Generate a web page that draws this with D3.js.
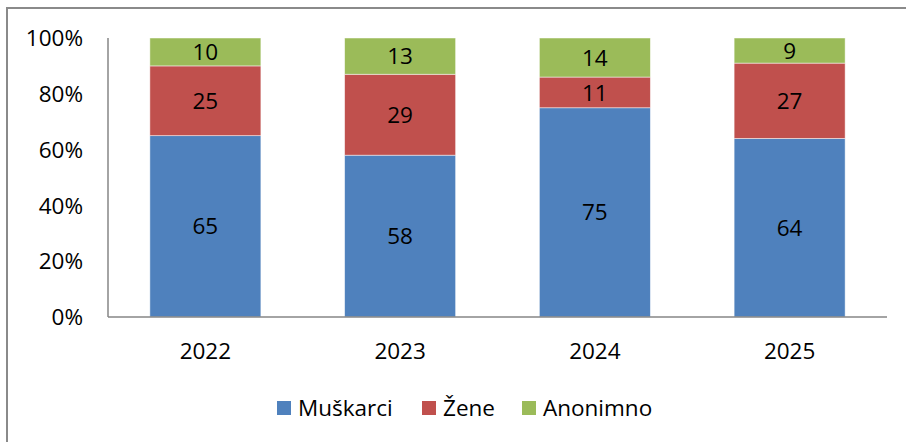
<!DOCTYPE html>
<html>
<head>
<meta charset="utf-8">
<script src="https://cdn.jsdelivr.net/npm/d3@7"></script>
<style>
  html, body { margin: 0; padding: 0; background: #fff; }
  svg { display: block; font-family: "Open Sans", "Noto Sans", sans-serif; }
</style>
</head>
<body>
<svg id="chart" width="906" height="442"></svg>
<script>
// data
const years = ["2022", "2023", "2024", "2025"];
const seriesNames = ["Muškarci", "Žene", "Anonimno"];
const muskarci = [65, 58, 75, 64];
const zene = [25, 29, 11, 27];
const anonimno = [10, 13, 14, 9];
const yTicks = [0, 0.2, 0.4, 0.6, 0.8, 1];
const colors = ["#4F81BD", "#C0504D", "#9BBB59"];

const svg = d3.select("#chart");
const width = 906, height = 442;
const plotLeft = 108, plotRight = 887, plotTop = 38, plotBottom = 317;
const fs = 22.5;

// outer frame of the chart area
svg.append("rect")
  .attr("x", 7).attr("y", 8)
  .attr("width", width + 10).attr("height", height + 10)
  .attr("fill", "none")
  .attr("stroke", "#8a8a8a")
  .attr("stroke-width", 2);

const rows = years.map((y, i) => ({ year: y, "Muškarci": muskarci[i], "Žene": zene[i], "Anonimno": anonimno[i] }));
// normalise to 100%
rows.forEach(r => {
  r.total = r["Muškarci"] + r["Žene"] + r["Anonimno"];
});
const stack = d3.stack().keys(seriesNames)
  .value((d, k) => d[k] / d.total);
const layers = stack(rows);

const x = d3.scaleBand().domain(years).range([plotLeft, plotRight])
  .paddingInner(0.43).paddingOuter(0.215);
const y = d3.scaleLinear().domain([0, 1]).range([plotBottom, plotTop]);

// bars
const g = svg.append("g");
layers.forEach((layer, li) => {
  g.selectAll(null)
    .data(layer)
    .join("rect")
    .attr("x", d => x(d.data.year))
    .attr("y", d => y(d[1]))
    .attr("width", x.bandwidth())
    .attr("height", d => y(d[0]) - y(d[1]))
    .attr("fill", colors[li])
    .attr("stroke", "rgba(255,255,255,0.6)")
    .attr("stroke-width", 0.8);

  g.selectAll(null)
    .data(layer)
    .join("text")
    .attr("x", d => x(d.data.year) + x.bandwidth() / 2)
    .attr("y", d => y((d[0] + d[1]) / 2))
    .attr("dy", "0.36em")
    .attr("text-anchor", "middle")
    .attr("font-size", fs)
    .attr("fill", "#000")
    .text(d => d.data[layer.key]);
});

// axes lines
svg.append("line")
  .attr("x1", plotLeft).attr("x2", plotLeft)
  .attr("y1", y(1)).attr("y2", plotBottom)
  .attr("stroke", "#868686").attr("stroke-width", 1.5);
svg.append("line")
  .attr("x1", plotLeft).attr("x2", plotRight)
  .attr("y1", plotBottom).attr("y2", plotBottom)
  .attr("stroke", "#868686").attr("stroke-width", 1.5);

// y tick labels
svg.append("g").selectAll("text")
  .data(yTicks)
  .join("text")
  .attr("x", 83)
  .attr("y", d => y(d))
  .attr("dy", "0.36em")
  .attr("text-anchor", "end")
  .attr("font-size", fs)
  .text(d => d3.format(".0%")(d));

// x labels
svg.append("g").selectAll("text")
  .data(years)
  .join("text")
  .attr("x", d => x(d) + x.bandwidth() / 2)
  .attr("y", 359)
  .attr("text-anchor", "middle")
  .attr("font-size", fs)
  .text(d => d);

// legend
const legendX = [277, 422, 522];
const legend = svg.append("g").selectAll("g")
  .data(seriesNames)
  .join("g")
  .attr("transform", (d, i) => `translate(${legendX[i]},401)`);
legend.append("rect")
  .attr("width", 14).attr("height", 14)
  .attr("fill", (d, i) => colors[i]);
legend.append("text")
  .attr("x", 21).attr("y", 14.5)
  .attr("font-size", fs)
  .text(d => d);
</script>
</body>
</html>
